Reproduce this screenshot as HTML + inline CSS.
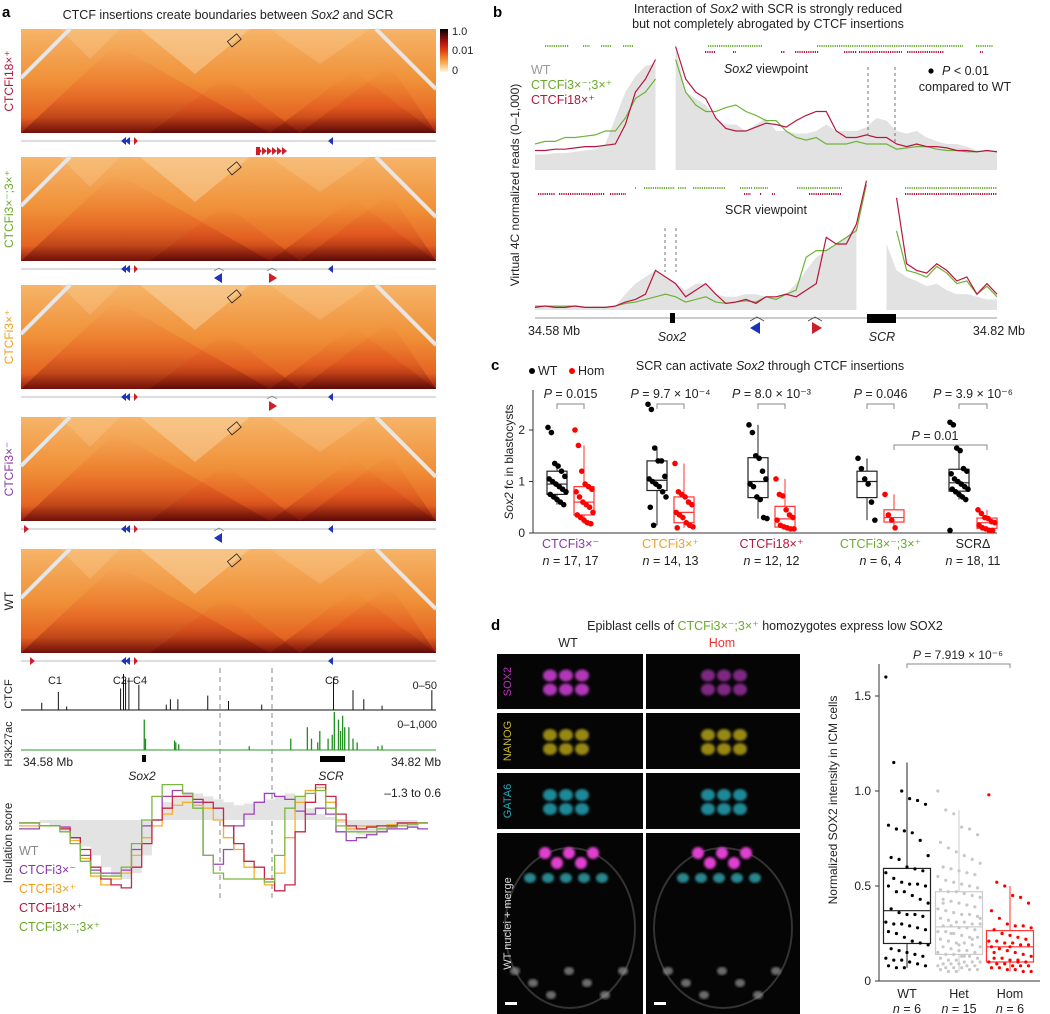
<!DOCTYPE html>
<html><head><meta charset="utf-8">
<style>
body{margin:0;background:#fff;}
svg{display:block;font-family:"Liberation Sans",sans-serif;}
</style></head>
<body>
<svg id="fig" width="1050" height="1014" viewBox="0 0 1050 1014" xmlns="http://www.w3.org/2000/svg">
<defs>
<linearGradient id="hmg" x1="0" y1="0" x2="0" y2="1">
<stop offset="0" stop-color="#f6b468"/><stop offset="0.5" stop-color="#f09038"/><stop offset="0.85" stop-color="#e46422"/><stop offset="1" stop-color="#9a1a10"/></linearGradient>
<linearGradient id="darkTri" x1="0" y1="0" x2="0" y2="1">
<stop offset="0" stop-color="#e8551a" stop-opacity="0"/><stop offset="0.6" stop-color="#d83a14" stop-opacity="0.45"/><stop offset="1" stop-color="#4a0606" stop-opacity="0.85"/></linearGradient>
<linearGradient id="cbar" x1="0" y1="0" x2="0" y2="1">
<stop offset="0" stop-color="#000"/><stop offset="0.3" stop-color="#b01010"/><stop offset="0.5" stop-color="#e04010"/><stop offset="0.75" stop-color="#f5a040"/><stop offset="1" stop-color="#fff6e0"/></linearGradient>
<filter id="blur"><feGaussianBlur stdDeviation="1.2"/></filter>
</defs>
<g id="panelA"></g>
<g id="panelB"></g>
<g id="panelC"></g>
<g id="panelD"></g>
</svg>
<script>
// ---------- DATA ----------
const upWT=[.12,.12,.13,.13,.14,.15,.16,.2,.4,.6,.72,.8,.82,null,.95,.6,.55,.5,.4,.35,.35,.3,.35,.4,.3,.3,.28,.28,.3,.35,.3,.3,.3,.33,.4,.38,.3,.28,.3,.25,.22,.2,.2,.18,.15,.15,.15];
const upRed=[.15,.15,.16,.16,.17,.18,.18,.19,.2,.35,.6,.7,.85,null,.95,.7,.6,.55,.4,.32,.3,.3,.33,.36,.35,.33,.38,.42,.45,.45,.3,.25,.25,.27,.25,.25,.2,.18,.2,.18,.18,.17,.15,.15,.14,.15,.14];
const upGreen=[.2,.22,.22,.25,.25,.26,.27,.3,.3,.4,.55,.6,.7,null,.85,.6,.5,.45,.45,.48,.5,.45,.42,.38,.38,.3,.25,.23,.25,.2,.2,.2,.22,.2,.2,.2,.16,.17,.18,.18,.16,.15,.15,.14,.14,.15,.14];
const loWT=[.02,.02,.02,.02,.02,.02,.02,.02,.03,.12,.2,.25,.3,.25,.2,.15,.2,.2,.12,.1,.1,.12,.12,.1,.1,.12,.2,.3,.4,.45,.5,.55,.65,null,null,.5,.3,.25,.22,.18,.2,.15,.12,.12,.1,.08,.08];
const loRed=[.02,.03,.02,.02,.03,.02,.02,.02,.03,.06,.08,.12,.3,.25,.2,.1,.15,.2,.12,.05,.06,.08,.05,.1,.1,.12,.1,.15,.2,.55,.5,.5,.65,.98,null,null,.85,.35,.3,.28,.35,.3,.22,.25,.12,.2,.12];
const loGreen=[.03,.03,.03,.03,.03,.02,.02,.02,.03,.05,.06,.08,.1,.12,.1,.06,.08,.1,.06,.05,.06,.07,.06,.1,.08,.12,.15,.4,.45,.45,.5,.55,.6,.95,null,null,.6,.3,.28,.25,.33,.28,.2,.22,.12,.18,.1];
const insWT=[0,0,-.05,-.1,-.2,-.3,-.45,-.6,-.8,-.95,-1,-.9,-.6,0,.3,.4,.45,.45,.4,.35,.3,.25,.28,.3,.35,.4,.45,.4,.2,.1,.05,-.05,-.2,-.25,-.25,-.2,-.15,-.1,-.05,0];
const insPurple=[-.15,-.15,-.1,-.1,-.12,-.3,-.6,-.85,-.9,-.9,-.85,-.5,-.1,0,.4,.5,.45,.3,-.6,-.75,-.5,-.1,.1,.3,.45,.4,.35,.15,.1,.2,.1,-.2,-.35,-.3,-.25,-.2,-.15,-.15,-.12,-.15];
const insOrange=[-.1,-.1,-.1,-.1,-.15,-.35,-.65,-.95,-1.1,-1,-.9,-.6,-.3,-.1,.1,.25,.3,.25,.2,0,-.3,-.5,-.8,-1,-1.1,-.9,-.3,.3,.5,.55,.3,0,-.15,-.1,-.1,-.1,-.08,-.06,-.05,-.05];
const insRed=[-.05,-.05,-.1,-.1,-.15,-.3,-.5,-.8,-1,-1.1,-1.15,-.8,-.4,0,.2,.4,.4,.35,.3,.2,-.1,-.4,-.7,-.8,-1,-1.2,-1.1,-.2,.3,.6,.4,.1,-.1,-.15,-.12,-.1,-.1,-.05,-.05,-.05];
const insGreen=[-.05,-.05,-.1,-.1,-.2,-.4,-.7,-.9,-.95,-.95,-.8,-.4,0,.4,.6,.6,.45,.2,-.6,-.9,-1,-1,-1,-1,-1.05,-.6,.2,.4,.45,.5,.2,-.1,-.2,-.2,-.2,-.15,-.12,-.1,-.08,-.05];
const ctcfPos=[.05,.09,.11,.24,.247,.252,.26,.284,.35,.36,.378,.45,.5,.58,.753,.8,.826,.87,.99];
const ctcfVal=[.2,.5,.1,.6,1,.85,.9,.7,.15,.3,.3,.4,.25,.15,.9,.55,.3,.12,.55];
const h3Pos=[.297,.3,.37,.373,.38,.55,.65,.69,.7,.715,.72,.74,.75,.755,.765,.77,.775,.78,.79,.8,.81,.86,.87];
const h3Val=[.8,.3,.25,.2,.15,.1,.3,.6,.3,.2,.5,.3,.4,1,.8,.5,.9,.6,.6,.3,.2,.1,.12];
const cGroups=["CTCFi3×⁻","CTCFi3×⁺","CTCFi18×⁺","CTCFi3×⁻;3×⁺","SCRΔ"];
const cN=["n = 17, 17","n = 14, 13","n = 12, 12","n = 6, 4","n = 18, 11"];
const cP=["0.015","9.7 × 10⁻⁴","8.0 × 10⁻³","0.046","3.9 × 10⁻⁶"];
const cWT=[[2.05,1.95,1.35,1.3,1.2,1.1,1.05,1.0,.95,.9,.85,.8,.75,.7,.65,.6,.55],[2.5,2.4,1.65,1.4,1.4,1.1,1.05,1.0,.95,.9,.8,.7,.5,.15],[2.1,1.95,1.5,1.45,1.2,1.05,.95,.9,.7,.65,.3,.28],[1.45,1.25,1.05,.95,.6,.25],[2.15,2.1,1.65,1.6,1.25,1.2,1.15,1.05,1.0,.95,.9,.85,.85,.8,.75,.7,.65,.05]];
const cHom=[[2.0,1.7,1.2,.95,.9,.85,.8,.7,.6,.55,.5,.4,.35,.3,.25,.2,.18],[1.35,.8,.75,.7,.6,.55,.4,.35,.3,.2,.15,.12,.1],[1.05,.75,.72,.45,.35,.3,.25,.15,.12,.1,.08,.08],[.75,.35,.25,.1],[.45,.38,.3,.28,.22,.2,.15,.1,.08,.05,.05]];
const cTicks=[0,1,2];
const dCats=["WT","Het","Hom"];
const dNs=["n = 6","n = 15","n = 6"];
const dWT=[1.6,1.15,1.0,.96,.95,.93,.82,.8,.79,.78,.74,.66,.65,.64,.6,.59,.58,.57,.54,.52,.51,.51,.5,.5,.47,.47,.45,.43,.41,.38,.36,.35,.35,.34,.31,.3,.3,.29,.28,.27,.26,.25,.23,.21,.2,.19,.17,.16,.15,.14,.13,.12,.11,.11,.1,.09,.08,.08,.07,.07];
const dHet=[1.0,.9,.88,.81,.8,.77,.73,.7,.68,.66,.64,.62,.6,.59,.58,.57,.56,.55,.53,.52,.51,.5,.49,.48,.47,.47,.46,.45,.44,.43,.42,.41,.4,.39,.38,.37,.36,.35,.35,.34,.33,.32,.31,.31,.3,.3,.29,.29,.28,.28,.27,.26,.26,.25,.24,.23,.23,.22,.21,.2,.2,.19,.18,.18,.17,.16,.16,.15,.15,.14,.14,.13,.13,.12,.12,.11,.11,.1,.1,.1,.09,.09,.09,.08,.08,.08,.07,.07,.07,.06,.06,.06,.05,.05,.13,.22,.33,.41,.25,.19];
const dHom=[.98,.52,.5,.45,.44,.41,.37,.33,.3,.29,.29,.28,.27,.25,.24,.23,.22,.21,.21,.2,.2,.19,.19,.18,.17,.16,.15,.14,.13,.12,.12,.11,.11,.1,.1,.09,.09,.08,.08,.08,.07,.07,.06,.06,.05,.05,.15,.25,.18,.1];
const dTicks=[0,0.5,1.0,1.5];

// ---------- helpers ----------
const NS="http://www.w3.org/2000/svg";
function mk(tag,attrs,parent,text){const e=document.createElementNS(NS,tag);for(const k in attrs)e.setAttribute(k,attrs[k]);if(text!==undefined)e.textContent=text;parent.appendChild(e);return e;}
function txt(parent,x,y,s,opt){opt=opt||{};const e=mk('text',{x:x,y:y,'font-size':opt.fs||12,fill:opt.fill||'#222','text-anchor':opt.anchor||'start','font-style':opt.it?'italic':'normal','font-weight':opt.bold?'bold':'normal'},parent,s);if(opt.rot)e.setAttribute('transform','rotate(-90 '+x+' '+y+')');return e;}
function quant(a,q){const s=[...a].sort((x,y)=>x-y);const p=(s.length-1)*q;const lo=Math.floor(p),hi=Math.ceil(p);return s[lo]+(s[hi]-s[lo])*(p-lo);}
function jit(i,w){return (((i*37)%17)/16-0.5)*w;}

// ---------- PANEL A ----------
const A=document.getElementById('panelA');
let t=txt(A,2,17,'a',{fs:15,bold:true,fill:'#000'});

t=mk('text',{x:228,y:19,'font-size':12.5,'text-anchor':'middle',fill:'#222'},A);
t.innerHTML='CTCF insertions create boundaries between <tspan font-style="italic">Sox2</tspan> and SCR';

const HX0=21,HX1=436,HH=104;
const hmTops=[29,157,285,417,549];
const hmLabels=[["CTCFi18×⁺","#b5173a"],["CTCFi3×⁻;3×⁺","#6aaa2a"],["CTCFi3×⁺","#f0a020"],["CTCFi3×⁻","#8a35a8"],["WT","#222"]];
hmTops.forEach((y0,k)=>{
  const g=mk('g',{},A);
  
  mk('rect',{x:HX0,y:y0,width:HX1-HX0,height:HH,fill:'url(#hmg)'},g);
  const yb=y0+HH;
  [[HX0-60,270],[150,300],[270,436],[300,480]].forEach(([a,b])=>{
    const m=(a+b)/2,h=Math.min(HH*0.85,(b-a)/2*0.75);
    mk('polygon',{points:`${Math.max(a,HX0)},${yb} ${m},${yb-h} ${Math.min(b,HX1)},${yb}`,fill:'url(#darkTri)',opacity:.6},g);
  });
  mk('polygon',{points:`140,${y0} 250,${y0} 195,${y0+45}`,fill:'#fbe0b8',opacity:.4},g);
  mk('polygon',{points:`270,${y0} 370,${y0} 320,${y0+35}`,fill:'#fbd8a8',opacity:.25},g);
  mk('polygon',{points:`60,${y0} 120,${y0} 90,${y0+30}`,fill:'#fbd8a8',opacity:.25},g);
  mk('line',{x1:70,y1:y0,x2:HX0,y2:y0+49,stroke:'#e6e6e6','stroke-width':4},g);
  mk('line',{x1:376,y1:y0,x2:HX1,y2:y0+60,stroke:'#e6e6e6','stroke-width':4},g);
  mk('rect',{x:228,y:y0+8,width:12,height:7,fill:'none',stroke:'#222','stroke-width':.8,transform:`rotate(-40 234 ${y0+11})`},g);
  const lb=txt(A,13,y0+HH/2,hmLabels[k][0],{fs:12,fill:hmLabels[k][1],anchor:'middle',rot:true});
  
  const ly=yb+8;
  const row=mk('g',{},A);
  
  mk('line',{x1:HX0,y1:ly,x2:HX1,y2:ly,stroke:'#bbb','stroke-width':1},row);
  mk('polygon',{points:`${121},${ly} ${126},${ly-4} ${126},${ly+4}`,fill:'#2233bb'},row);
  mk('polygon',{points:`${125},${ly} ${130},${ly-4} ${130},${ly+4}`,fill:'#2233bb'},row);
  mk('polygon',{points:`${138},${ly} ${134},${ly-4} ${134},${ly+4}`,fill:'#cc1f2a'},row);
  mk('polygon',{points:`${328},${ly} ${333},${ly-4} ${333},${ly+4}`,fill:'#2233bb'},row);
  if(k===0){for(let j=0;j<6;j++)mk('polygon',{points:`${257+j*5},${ly+6} ${262+j*5},${ly+10} ${257+j*5},${ly+14}`,fill:'#cc1f2a'},row);mk('rect',{x:256,y:ly+6,width:4,height:8,fill:'#cc1f2a'},row);}
  if(k===1||k===3){mk('polygon',{points:`214,${ly+9} 222,${ly+4} 222,${ly+14}`,fill:'#2233bb'},row);mk('polyline',{points:`214,${ly+2} 219,${ly-1} 224,${ly+2}`,fill:'none',stroke:'#666','stroke-width':.7},row);}
  if(k===1||k===2){mk('polygon',{points:`277,${ly+9} 269,${ly+4} 269,${ly+14}`,fill:'#cc1f2a'},row);mk('polyline',{points:`267,${ly+2} 272,${ly-1} 277,${ly+2}`,fill:'none',stroke:'#666','stroke-width':.7},row);}
  if(k===3){mk('polygon',{points:`29,${ly} 24,${ly-4} 24,${ly+4}`,fill:'#cc1f2a'},row);}
  if(k===4){mk('polygon',{points:`35,${ly} 30,${ly-4} 30,${ly+4}`,fill:'#cc1f2a'},row);}
});
const cb=mk('g',{},A);
mk('rect',{x:440,y:29,width:8,height:43,fill:'url(#cbar)'},cb);
txt(cb,452,35,'1.0',{fs:11});txt(cb,452,54,'0.01',{fs:11});txt(cb,452,74,'0',{fs:11});
const tr=mk('g',{},A);
const gx=f=>HX0+f*(HX1-HX0);
txt(tr,55,684,'C1',{fs:11,anchor:'middle'});txt(tr,130,684,'C2–C4',{fs:11,anchor:'middle'});txt(tr,332,684,'C5',{fs:11,anchor:'middle'});
txt(tr,12,694,'CTCF',{fs:11,anchor:'middle',rot:true});
txt(tr,437,689,'0–50',{fs:11,anchor:'end'});
mk('line',{x1:HX0,y1:710,x2:HX1,y2:710,stroke:'#111','stroke-width':1},tr);
ctcfPos.forEach((p,i)=>{const l=mk('line',{x1:gx(p),x2:gx(p),y1:710,y2:710-ctcfVal[i]*36,stroke:'#111','stroke-width':1},tr);
  });
txt(tr,12,744,'H3K27ac',{fs:11,anchor:'middle',rot:true});
txt(tr,437,728,'0–1,000',{fs:11,anchor:'end'});
mk('line',{x1:HX0,y1:750,x2:HX1,y2:750,stroke:'#2a9a2a','stroke-width':1},tr);
h3Pos.forEach((p,i)=>{const l=mk('line',{x1:gx(p),x2:gx(p),y1:750,y2:750-h3Val[i]*38,stroke:'#1f8f1f','stroke-width':1.3},tr);
  });
txt(tr,23,766,'34.58 Mb',{fs:12});txt(tr,441,766,'34.82 Mb',{fs:12,anchor:'end'});
mk('rect',{x:142,y:755,width:4,height:7,fill:'#000'},tr);
txt(tr,142,780,'Sox2',{fs:12,it:true,anchor:'middle'});
mk('rect',{x:320,y:756,width:25,height:6,fill:'#000'},tr);
txt(tr,331,780,'SCR',{fs:12,it:true,anchor:'middle'});
mk('line',{x1:220,y1:668,x2:220,y2:900,stroke:'#888','stroke-dasharray':'5,4','stroke-width':1},tr);
mk('line',{x1:272,y1:668,x2:272,y2:900,stroke:'#888','stroke-dasharray':'5,4','stroke-width':1},tr);
const ins=mk('g',{},A);
txt(ins,12,843,'Insulation score',{fs:11.5,anchor:'middle',rot:true});
txt(ins,441,797,'–1.3 to 0.6',{fs:12,anchor:'end'});
const IX0=19,IX1=428,nb=insWT.length,bw=(IX1-IX0)/nb;
const iy=v=>820-v*59;
function stepPath(arr){let d='';arr.forEach((v,i)=>{const x=IX0+i*bw;d+=(i?'L':'M')+x+','+iy(v)+'L'+(x+bw)+','+iy(v);});return d;}
mk('path',{d:stepPath(insWT)+`L${IX1},${iy(0)}L${IX0},${iy(0)}Z`,fill:'#e3e3e3',stroke:'none'},ins);
const insSeries=[[insPurple,'#9b45b8','insulation-ctcfi3-minus'],[insOrange,'#f4b02a','insulation-ctcfi3-plus'],[insRed,'#c2284a','insulation-ctcfi18'],[insGreen,'#7ab840','insulation-ctcfi3-double']];
insSeries.forEach(([a,c,n])=>{const p=mk('path',{d:stepPath(a),fill:'none',stroke:c,'stroke-width':1.3},ins);});
const leg=mk('g',{},A);
[['WT','#888'],['CTCFi3×⁻','#8a35a8'],['CTCFi3×⁺','#f0a020'],['CTCFi18×⁺','#b5173a'],['CTCFi3×⁻;3×⁺','#6aaa2a']].forEach(([s,c],i)=>txt(leg,19,855+i*19,s,{fs:12.5,fill:c}));

// ---------- PANEL B ----------
const B=document.getElementById('panelB');
txt(B,493,17,'b',{fs:15,bold:true,fill:'#000'});
t=mk('text',{x:768,y:13,'font-size':12.5,'text-anchor':'middle',fill:'#222'},B);t.innerHTML='Interaction of <tspan font-style="italic">Sox2</tspan> with SCR is strongly reduced';

txt(B,768,28,'but not completely abrogated by CTCF insertions',{fs:12.5,anchor:'middle'});
txt(B,519,185,'Virtual 4C normalized reads (0–1,000)',{fs:12,anchor:'middle',rot:true});
const BX0=535,BX1=997,bstep=(BX1-BX0)/(upWT.length-1);
const bx=i=>BX0+i*bstep;
function drawTrack(parent,arr,base,h,color,fill,name){
  let segs=[],cur=[];arr.forEach((v,i)=>{if(v===null){if(cur.length)segs.push(cur);cur=[];}else cur.push([bx(i),base-v*h]);});if(cur.length)segs.push(cur);
  segs.forEach(s=>{let d='M'+s.map(p=>p.join(',')).join('L');
    if(fill)d+=`L${s[s.length-1][0]},${base}L${s[0][0]},${base}Z`;
    const p=mk('path',{d:d,fill:fill?color:'none',stroke:fill?'none':color,'stroke-width':1.2},parent);
    });
}
const bu=mk('g',{},B);
drawTrack(bu,upWT,170,130,'#e2e2e2',true,'sox2vp-wt');
drawTrack(bu,upGreen,170,130,'#6fb33a',false,'sox2vp-ctcfi3-double');
drawTrack(bu,upRed,170,130,'#b8163e',false,'sox2vp-ctcfi18');
const bl=mk('g',{},B);
drawTrack(bl,loWT,310,132,'#e2e2e2',true,'scrvp-wt');
drawTrack(bl,loGreen,310,132,'#6fb33a',false,'scrvp-ctcfi3-double');
drawTrack(bl,loRed,310,132,'#b8163e',false,'scrvp-ctcfi18');
function dots(y,segs,c){segs.forEach(([a,b])=>mk('line',{x1:a,x2:b,y1:y,y2:y,stroke:c,'stroke-width':2,'stroke-dasharray':'1.2,1'},B));}
dots(46,[[545,569],[583,590],[601,612],[623,633],[708,763],[817,963],[976,993]],'#6fb33a');
dots(52,[[705,715],[733,736],[781,785],[795,819],[844,857],[859,878],[879,902],[907,944],[980,983]],'#b8163e');
dots(188,[[635,636],[644,675],[678,686],[693,726],[740,752],[754,768],[797,842],[905,997]],'#6fb33a');
dots(194,[[538,555],[559,605],[610,626],[744,751],[760,762],[772,775],[809,842],[905,997]],'#b8163e');
txt(B,531,74,'WT',{fs:12.5,fill:'#999'});txt(B,531,89,'CTCFi3×⁻;3×⁺',{fs:12.5,fill:'#6aaa2a'});txt(B,531,104,'CTCFi18×⁺',{fs:12.5,fill:'#b5173a'});
t=mk('text',{x:766,y:73,'font-size':12.5,'text-anchor':'middle',fill:'#222'},B);t.innerHTML='<tspan font-style="italic">Sox2</tspan> viewpoint';
txt(B,766,214,'SCR viewpoint',{fs:12.5,anchor:'middle'});
mk('circle',{cx:931,cy:71,r:2.6,fill:'#000'},B);
t=mk('text',{x:942,y:75,'font-size':12.5,fill:'#222'},B);t.innerHTML='<tspan font-style="italic">P</tspan> &lt; 0.01';
txt(B,965,91,'compared to WT',{fs:12.5,anchor:'middle'});
[[868,67,137],[895,67,142],[665,228,272],[676,228,272]].forEach(([x,a,b])=>mk('line',{x1:x,x2:x,y1:a,y2:b,stroke:'#777','stroke-dasharray':'3,3'},B));
const bax=mk('g',{},B);
mk('line',{x1:535,x2:997,y1:318,y2:318,stroke:'#999'},bax);
txt(bax,528,335,'34.58 Mb',{fs:12.5});txt(bax,1025,335,'34.82 Mb',{fs:12.5,anchor:'end'});
mk('rect',{x:670,y:313,width:5,height:10,fill:'#000'},bax);
txt(bax,672,341,'Sox2',{fs:12.5,it:true,anchor:'middle'});
mk('rect',{x:867,y:314,width:29,height:9,fill:'#000'},bax);
txt(bax,882,341,'SCR',{fs:12.5,it:true,anchor:'middle'});
mk('polygon',{points:'750,328 760,322 760,334',fill:'#1a2fc0'},bax);mk('polyline',{points:'750,321 757,317 764,321',fill:'none',stroke:'#444','stroke-width':.8},bax);
mk('polygon',{points:'822,328 812,322 812,334',fill:'#cc1f2a'},bax);mk('polyline',{points:'808,321 815,317 822,321',fill:'none',stroke:'#444','stroke-width':.8},bax);

// ---------- PANEL C ----------
const C=document.getElementById('panelC');
txt(C,491,370,'c',{fs:15,bold:true,fill:'#000'});
mk('circle',{cx:532,cy:371,r:3,fill:'#000'},C);txt(C,538,375,'WT',{fs:12.5});
mk('circle',{cx:572,cy:371,r:3,fill:'#f00'},C);txt(C,578,375,'Hom',{fs:12.5});
t=mk('text',{x:770,y:370,'font-size':12.5,'text-anchor':'middle',fill:'#222'},C);t.innerHTML='SCR can activate <tspan font-style="italic">Sox2</tspan> through CTCF insertions';

const CY0=533,cs=51.5,cy=v=>CY0-v*cs;
mk('line',{x1:533,x2:533,y1:390,y2:CY0,stroke:'#333'},C);
mk('line',{x1:533,x2:997,y1:CY0,y2:CY0,stroke:'#333'},C);
cTicks.forEach(v=>{mk('line',{x1:529,x2:533,y1:cy(v),y2:cy(v),stroke:'#333'},C);txt(C,525,cy(v)+4,String(v),{fs:12,anchor:'end'});});
t=mk('text',{x:513,y:462,'font-size':12,'text-anchor':'middle',fill:'#222',transform:'rotate(-90 513 462)'},C);t.innerHTML='<tspan font-style="italic">Sox2</tspan> fc in blastocysts';

const cWTx=[557,657,758,867,959],cHomx=[584,684,785,894,987];
const gColors=['#8a35a8','#f0a020','#b5173a','#6aaa2a','#222'];
function box(parent,vals,cx,w,col,scale,yfn,dotR,dotCol,name){
  const g=mk('g',{},parent);
  const q1=quant(vals,.25),q2=quant(vals,.5),q3=quant(vals,.75),iqr=q3-q1;
  const inr=vals.filter(v=>v>=q1-1.5*iqr&&v<=q3+1.5*iqr);
  const lo=Math.min(...inr),hi=Math.max(...inr);
  mk('line',{x1:cx,x2:cx,y1:yfn(hi),y2:yfn(q3),stroke:col},g);
  mk('line',{x1:cx,x2:cx,y1:yfn(q1),y2:yfn(lo),stroke:col},g);
  mk('rect',{x:cx-w/2,y:yfn(q3),width:w,height:yfn(q1)-yfn(q3),fill:'none',stroke:col,'stroke-width':1.2},g);
  mk('line',{x1:cx-w/2,x2:cx+w/2,y1:yfn(q2),y2:yfn(q2),stroke:col,'stroke-width':1.2},g);
  vals.forEach((v,i)=>{const d=mk('circle',{cx:cx+jit(i,w*scale),cy:yfn(v),r:dotR,fill:dotCol},g);
    });
}
cGroups.forEach((gname,k)=>{
  box(C,cWT[k],cWTx[k],20,'#222',0.9,cy,2.8,'#000','box-wt-'+(k+1));
  box(C,cHom[k],cHomx[k],20,'#f33',0.9,cy,2.8,'#f00','box-hom-'+(k+1));
  const mid=(cWTx[k]+cHomx[k])/2;
  txt(C,mid,548,gname,{fs:12.5,anchor:'middle',fill:gColors[k]});
  t=mk('text',{x:mid,y:565,'font-size':12.5,'text-anchor':'middle',fill:'#222'},C);t.innerHTML='<tspan font-style="italic">n</tspan>'+cN[k].slice(1);
  t=mk('text',{x:mid,y:398,'font-size':12.5,'text-anchor':'middle',fill:'#222'},C);t.innerHTML='<tspan font-style="italic">P</tspan> = '+cP[k];
  
  mk('polyline',{points:`${cWTx[k]},409 ${cWTx[k]},404 ${cHomx[k]},404 ${cHomx[k]},409`,fill:'none',stroke:'#888'},C);
});
t=mk('text',{x:935,y:440,'font-size':12.5,'text-anchor':'middle',fill:'#222'},C);t.innerHTML='<tspan font-style="italic">P</tspan> = 0.01';
mk('polyline',{points:`894,450 894,445 987,445 987,450`,fill:'none',stroke:'#888'},C);

// ---------- PANEL D ----------
const D=document.getElementById('panelD');
txt(D,491,630,'d',{fs:15,bold:true,fill:'#000'});
t=mk('text',{x:765,y:630,'font-size':12.5,'text-anchor':'middle',fill:'#222'},D);t.innerHTML='Epiblast cells of <tspan fill="#6aaa2a">CTCFi3×⁻;3×⁺</tspan> homozygotes express low SOX2';

txt(D,568,647,'WT',{fs:12.5,anchor:'middle'});txt(D,722,647,'Hom',{fs:12.5,anchor:'middle',fill:'#e33'});
const imgCols=[497,646],imgW=[146,154];
const rows=[[654,55,'SOX2','#c030c0'],[713,56,'NANOG','#c8b820'],[773,56,'GATA6','#20a8b8'],[833,181,'WT nuclei + merge','#ddd']];
const blobCols=['#d040d8','#b0a018','#20a0b0'];
rows.forEach(([y,h,lab,lc],r)=>{
  imgCols.forEach((x,c)=>{
    const g=mk('g',{},D);
    mk('rect',{x:x,y:y,width:imgW[c],height:h,fill:'#050505'},g);
    const cx0=x+imgW[c]/2;
    if(r<3){for(let j=0;j<6;j++)mk('ellipse',{cx:cx0-20+(j%3)*16+(c?5:0),cy:y+h/2-6+Math.floor(j/3)*14,rx:7,ry:6,fill:blobCols[r],opacity:r===0&&c===1?0.6:0.85,filter:'url(#blur)'},g);}
    else{
      mk('ellipse',{cx:cx0,cy:y+95,rx:imgW[c]/2-8,ry:80,fill:'none',stroke:'#333','stroke-width':2},g);
      for(let j=0;j<5;j++)mk('ellipse',{cx:cx0-25+j*12,cy:y+20+(j%2)*10,rx:6,ry:6,fill:'#e040d0',filter:'url(#blur)'},g);
      for(let j=0;j<5;j++)mk('ellipse',{cx:cx0-40+j*18,cy:y+45,rx:6,ry:5,fill:'#30a8b0',opacity:.8,filter:'url(#blur)'},g);
      for(let j=0;j<7;j++)mk('ellipse',{cx:cx0-55+j*18,cy:y+150+((j%3)-1)*12,rx:5,ry:4,fill:'#999',opacity:.7,filter:'url(#blur)'},g);
      mk('rect',{x:x+8,y:y+h-12,width:12,height:3,fill:'#fff'},g);
    }
  });
  txt(D,511,y+h/2,lab,{fs:11,anchor:'middle',rot:true,fill:lc});
});
const DY0=981,ds=190,dy=v=>DY0-v*ds;
mk('line',{x1:879,x2:879,y1:664,y2:DY0,stroke:'#333'},D);
mk('line',{x1:879,x2:1040,y1:DY0,y2:DY0,stroke:'#333'},D);
dTicks.forEach(v=>{mk('line',{x1:875,x2:879,y1:dy(v),y2:dy(v),stroke:'#333'},D);txt(D,871,dy(v)+4,v===0?'0':v.toFixed(1),{fs:12,anchor:'end'});});
txt(D,837,800,'Normalized SOX2 intensity in ICM cells',{fs:12,anchor:'middle',rot:true});
const dX=[907,959,1010];
box(D,dWT,dX[0],47,'#222',0.9,dy,1.6,'#000','box-d-wt');
box(D,dHet,dX[1],47,'#ccc',0.9,dy,1.6,'#c8c8c8','box-d-het');
box(D,dHom,dX[2],47,'#f33',0.9,dy,1.6,'#f00','box-d-hom');
dCats.forEach((c,i)=>{txt(D,dX[i],998,c,{fs:12.5,anchor:'middle'});t=mk('text',{x:dX[i],y:1013,'font-size':12.5,'text-anchor':'middle',fill:'#222'},D);t.innerHTML='<tspan font-style="italic">n</tspan>'+dNs[i].slice(1);});
mk('polyline',{points:`907,668 907,664 1010,664 1010,668`,fill:'none',stroke:'#888'},D);
t=mk('text',{x:958,y:659,'font-size':12,'text-anchor':'middle',fill:'#222'},D);t.innerHTML='<tspan font-style="italic">P</tspan> = 7.919 × 10⁻⁶';

</script>
</body></html>
